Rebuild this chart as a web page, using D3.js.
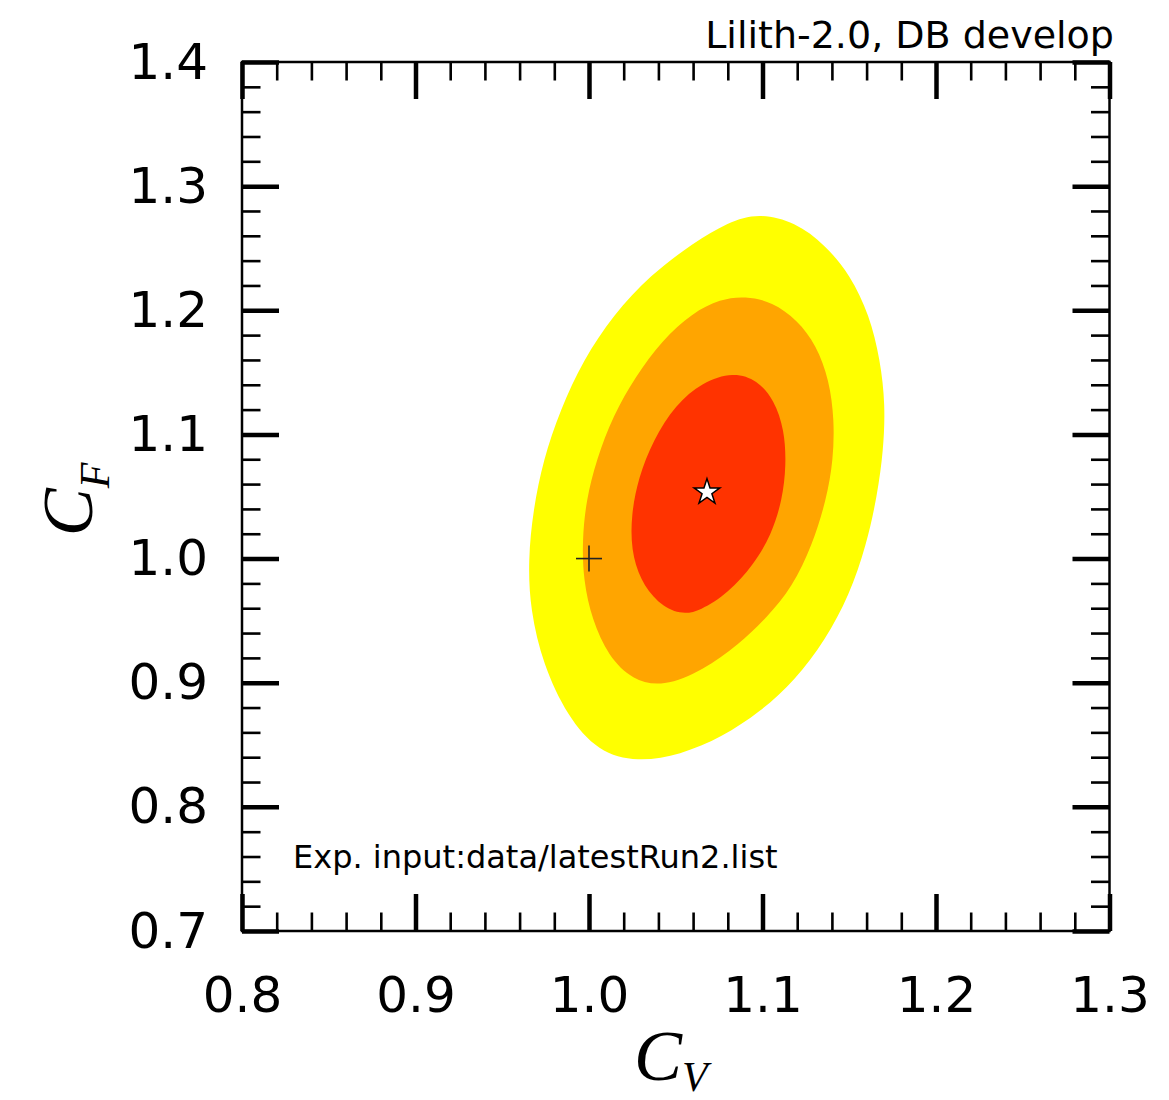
<!DOCTYPE html>
<html><head><meta charset="utf-8">
<script src="https://cdn.jsdelivr.net/npm/d3@7"></script>
<style>body{margin:0;background:#fff} svg{display:block}</style>
</head><body>
<script>
// ---- data ----
const xTicks = [0.8, 0.9, 1.0, 1.1, 1.2, 1.3];
const xTickLabels = ["0.8", "0.9", "1.0", "1.1", "1.2", "1.3"];
const yTicks = [0.7, 0.8, 0.9, 1.0, 1.1, 1.2, 1.3, 1.4];
const yTickLabels = ["0.7", "0.8", "0.9", "1.0", "1.1", "1.2", "1.3", "1.4"];

// contour boundaries [C_V, C_F]
const contour3sigma = [
  [1.0976,1.2784],[1.1189,1.2711],[1.1362,1.2526],[1.1506,1.2284],[1.1616,1.1962],
  [1.1679,1.1599],[1.1708,1.1237],[1.1697,1.0874],[1.1662,1.0512],[1.1599,1.0109],
  [1.1501,0.9706],[1.1362,0.9344],[1.1189,0.9022],[1.0987,0.8764],[1.0768,0.8563],
  [1.0526,0.8418],[1.0278,0.8361],[1.0053,0.8442],[0.9874,0.8732],[0.9736,0.9143],
  [0.9661,0.9586],[0.9649,0.9988],[0.9678,1.0391],[0.9736,1.0794],[0.9834,1.1197],
  [0.9967,1.1599],[1.0140,1.1962],[1.0353,1.2284],[1.0601,1.2542],[1.0803,1.2711]
];
const contour2sigma = [
  [1.0901,1.2115],[1.1057,1.2067],[1.1201,1.1922],[1.1310,1.1720],[1.1385,1.1438],
  [1.1414,1.1116],[1.1408,1.0794],[1.1368,1.0472],[1.1287,1.0109],[1.1172,0.9771],
  [1.1028,0.9529],[1.0860,0.9304],[1.0659,0.9102],[1.0428,0.8965],[1.0249,0.9022],
  [1.0111,0.9215],[1.0018,0.9505],[0.9967,0.9827],[0.9961,1.0150],[0.9984,1.0472],
  [1.0042,1.0794],[1.0140,1.1156],[1.0266,1.1463],[1.0422,1.1761],[1.0595,1.1978],
  [1.0757,1.2091]
];
const contour1sigma = [
  [1.0832,1.1503],[1.0970,1.1438],[1.1068,1.1277],[1.1126,1.1036],[1.1137,1.0754],
  [1.1114,1.0472],[1.1051,1.0190],[1.0947,0.9948],[1.0803,0.9723],[1.0641,0.9578],
  [1.0526,0.9545],[1.0393,0.9642],[1.0295,0.9827],[1.0243,1.0069],[1.0243,1.0351],
  [1.0284,1.0649],[1.0370,1.0955],[1.0497,1.1237],[1.0653,1.1422]
];
const contourColors = ["#ffff00", "#ffa500", "#ff3300"];
const bestFit = [1.068, 1.0535];
const smPoint = [1.0, 1.0];
const titleText = "Lilith-2.0, DB develop";
const inputText = "Exp. input:data/latestRun2.list";

// ---- chart ----
const W = 1169, H = 1100;
const svg = d3.select("body").append("svg").attr("width", W).attr("height", H);
const x = d3.scaleLinear().domain([0.8, 1.3]).range([242, 1109.5]);
const y = d3.scaleLinear().domain([0.7, 1.4]).range([931, 62]);

const line = d3.line().x(d => x(d[0])).y(d => y(d[1])).curve(d3.curveBasisClosed);
[contour3sigma, contour2sigma, contour1sigma].forEach((c, i) => {
  svg.append("path").attr("d", line(c)).attr("fill", contourColors[i]).attr("stroke", "none");
});

// SM point
const p = svg.append("g").attr("transform", `translate(${x(smPoint[0])},${y(smPoint[1])})`);
p.append("line").attr("x1", -13).attr("x2", 13).attr("stroke", "#222").attr("stroke-width", 1.6);
p.append("line").attr("y1", -13).attr("y2", 13).attr("stroke", "#222").attr("stroke-width", 1.6);

// best fit star
svg.append("path")
  .attr("d", d3.symbol().type(d3.symbolStar).size(205)())
  .attr("transform", `translate(${x(bestFit[0])},${y(bestFit[1])})`)
  .attr("fill", "#fff").attr("stroke", "#000").attr("stroke-width", 1.5);

// ticks
const xMinor = d3.range(0.8, 1.3001, 0.02).filter(v => Math.abs(v * 10 - Math.round(v * 10)) > 1e-6);
const yMinor = d3.range(0.7, 1.4001, 0.02).filter(v => Math.abs(v * 10 - Math.round(v * 10)) > 1e-6);
const fontTick = "'DejaVu Sans', sans-serif";

function styleAxis(g, w) {
  g.select(".domain").remove();
  g.selectAll(".tick line").attr("stroke", "#000").attr("stroke-width", w);
  g.selectAll(".tick text").attr("fill", "#000").style("font-family", fontTick).style("font-size", "50px");
}

// bottom
svg.append("g").attr("transform", "translate(0,931)")
  .call(d3.axisBottom(x).tickValues(xTicks).tickFormat((d, i) => xTickLabels[i]).tickSizeInner(-37).tickSizeOuter(0).tickPadding(45))
  .call(g => styleAxis(g, 4.5));
svg.append("g").attr("transform", "translate(0,931)")
  .call(d3.axisBottom(x).tickValues(xMinor).tickFormat("").tickSizeInner(-18.5).tickSizeOuter(0))
  .call(g => styleAxis(g, 2.6));
// top
svg.append("g").attr("transform", "translate(0,62)")
  .call(d3.axisTop(x).tickValues(xTicks).tickFormat("").tickSizeInner(-37).tickSizeOuter(0))
  .call(g => styleAxis(g, 4.5));
svg.append("g").attr("transform", "translate(0,62)")
  .call(d3.axisTop(x).tickValues(xMinor).tickFormat("").tickSizeInner(-18.5).tickSizeOuter(0))
  .call(g => styleAxis(g, 2.6));
// left
svg.append("g").attr("transform", "translate(242,0)")
  .call(d3.axisLeft(y).tickValues(yTicks).tickFormat((d, i) => yTickLabels[i]).tickSizeInner(-37).tickSizeOuter(0).tickPadding(34))
  .call(g => styleAxis(g, 4.5));
svg.append("g").attr("transform", "translate(242,0)")
  .call(d3.axisLeft(y).tickValues(yMinor).tickFormat("").tickSizeInner(-18.5).tickSizeOuter(0))
  .call(g => styleAxis(g, 2.6));
// right
svg.append("g").attr("transform", "translate(1109.5,0)")
  .call(d3.axisRight(y).tickValues(yTicks).tickFormat("").tickSizeInner(-37).tickSizeOuter(0))
  .call(g => styleAxis(g, 4.5));
svg.append("g").attr("transform", "translate(1109.5,0)")
  .call(d3.axisRight(y).tickValues(yMinor).tickFormat("").tickSizeInner(-18.5).tickSizeOuter(0))
  .call(g => styleAxis(g, 2.6));

// frame
svg.append("rect").attr("x", x(0.8)).attr("y", y(1.4))
  .attr("width", x(1.3) - x(0.8)).attr("height", y(0.7) - y(1.4))
  .attr("fill", "none").attr("stroke", "#000").attr("stroke-width", 2.5);

// texts
svg.append("text").attr("x", 1114).attr("y", 48).attr("text-anchor", "end")
  .style("font-family", fontTick).style("font-size", "38px").text(titleText);
svg.append("text").attr("x", 293).attr("y", 868)
  .style("font-family", fontTick).style("font-size", "32px").text(inputText);

// axis labels
const fontMath = "'Liberation Serif', serif";
const xl = svg.append("text").attr("x", (x(0.8) + x(1.3)) / 2 - 5).attr("y", 1080).attr("text-anchor", "middle")
  .style("font-family", fontMath).style("font-style", "italic").style("font-size", "72px");
xl.append("tspan").text("C");
xl.append("tspan").attr("dy", 11).style("font-size", "42px").text("V");

const yl = svg.append("text").attr("transform", `translate(92,${(y(0.7) + y(1.4)) / 2 + 3}) rotate(-90)`)
  .attr("text-anchor", "middle")
  .style("font-family", fontMath).style("font-style", "italic").style("font-size", "72px");
yl.append("tspan").text("C");
yl.append("tspan").attr("dy", 17).style("font-size", "42px").text("F");
</script>
</body></html>
